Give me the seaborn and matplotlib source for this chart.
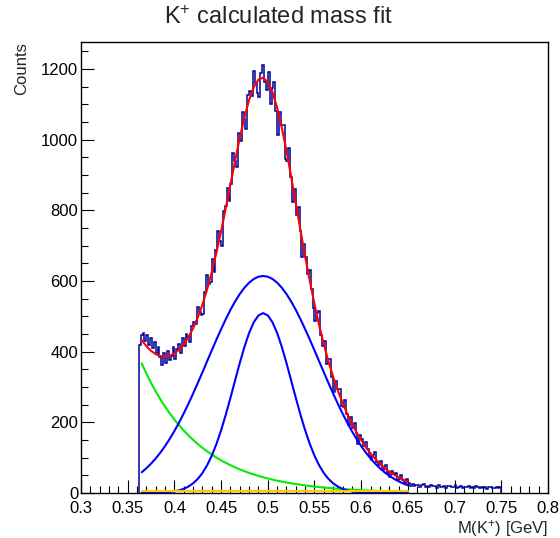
import numpy as np
import pandas as pd
import matplotlib
matplotlib.use("Agg")
import matplotlib.pyplot as plt
from matplotlib.ticker import MultipleLocator, FuncFormatter
import seaborn as sns

# histogram: 2 MeV bins starting at 0.362 GeV
bin_start = 0.362
bin_width = 0.002
counts = [
    # 0.362 - 0.420
    418, 447, 452, 431, 446, 419, 438, 409, 428, 396,
    412, 384, 361, 395, 368, 402, 376, 389, 414, 380,
    408, 421, 395, 438, 416, 449, 441, 427, 472,
    # 0.420 - 0.480
    484, 477, 525, 513, 503, 506, 569, 617, 590, 596,
    661, 625, 688, 742, 713, 699, 797, 811, 864, 827,
    873, 963, 940, 923, 1018, 995, 1078, 1059, 1030, 1126,
    # 0.480 - 0.540
    1137, 1123, 1193, 1161, 1132, 1119, 1187, 1212, 1162, 1139,
    1190, 1101, 1145, 1164, 1080, 1012, 1078, 1041, 1042, 946,
    939, 975, 895, 824, 860, 786, 808, 740, 669, 704,
    # 0.540 - 0.600
    669, 619, 632, 576, 524, 487, 508, 514, 448, 416,
    431, 365, 379, 380, 328, 285, 317, 294, 294, 245,
    242, 262, 224, 192, 215, 183, 198, 170, 140, 165,
    # 0.600 - 0.650
    152, 134, 145, 124, 104, 93, 108, 115, 89, 79,
    90, 64, 74, 80, 58, 44, 61, 54, 58, 38,
    40, 51, 38, 27, 39,
    # 0.650 - 0.750
    28, 21, 26, 19, 24, 23, 17, 22, 25, 18,
    21, 16, 23, 19, 20, 15, 22, 18, 17, 21,
    14, 19, 20, 16, 18, 22, 15, 17, 19, 14,
    18, 16, 20, 15, 17, 13, 19, 16, 15, 18,
    14, 17, 12, 16, 18, 14, 15, 17, 13, 16,
]

# fit curves
fit_x = [
    0.365, 0.370, 0.375, 0.380, 0.385, 0.390, 0.395, 0.400, 0.405, 0.410,
    0.415, 0.420, 0.425, 0.430, 0.435, 0.440, 0.445, 0.450, 0.455, 0.460,
    0.465, 0.470, 0.475, 0.480, 0.485, 0.490, 0.495, 0.500, 0.505, 0.510,
    0.515, 0.520, 0.525, 0.530, 0.535, 0.540, 0.545, 0.550, 0.555, 0.560,
    0.565, 0.570, 0.575, 0.580, 0.585, 0.590, 0.595, 0.600, 0.605, 0.610,
    0.615, 0.620, 0.625, 0.630, 0.635, 0.640, 0.645, 0.650,
]
fit_total = [
    432.5, 415.5, 402.3, 392.9, 387.4, 386.0, 388.5, 394.9, 405.7, 420.9,
    440.7, 465.9, 496.4, 533.0, 575.6, 624.7, 679.8, 740.4, 805.3, 872.8,
    940.1, 1004.6, 1062.9, 1111.8, 1148.2, 1169.7, 1174.6, 1162.5, 1133.7, 1089.9,
    1033.5, 967.5, 895.0, 819.4, 743.4, 669.4, 599.4, 534.2, 474.5, 420.6,
    372.1, 328.6, 289.8, 255.3, 224.3, 196.5, 171.7, 149.6, 129.7, 112.2,
    96.8, 83.2, 71.1, 60.9, 52.0, 44.4, 37.9, 32.4,
]
gaus_broad = [
    58.7, 70.1, 83.1, 97.8, 114.3, 132.8, 153.1, 175.3, 199.4, 225.1,
    252.4, 281.1, 310.9, 341.5, 372.4, 403.4, 433.9, 463.4, 491.6, 518.0,
    541.9, 563.0, 580.8, 595.1, 605.5, 611.9, 614.0, 611.9, 605.5, 595.1,
    580.8, 563.0, 541.9, 518.0, 491.6, 463.4, 433.9, 403.4, 372.4, 341.5,
    310.9, 281.1, 252.4, 225.1, 199.4, 175.3, 153.1, 132.8, 114.3, 97.8,
    83.1, 70.1, 58.7, 48.9, 40.4, 33.1, 27.0, 21.8,
]
gaus_narrow = [
    0.1, 0.2, 0.3, 0.5, 0.9, 1.6, 2.8, 4.6, 7.5, 11.9,
    18.2, 27.3, 39.8, 56.5, 78.2, 105.5, 138.6, 177.5, 221.4, 269.1,
    318.6, 367.7, 413.4, 452.8, 483.2, 502.4, 509.0, 502.4, 483.2, 452.8,
    413.4, 367.7, 318.6, 269.1, 221.4, 177.5, 138.6, 105.5, 78.2, 56.5,
    39.8, 27.3, 18.2, 11.9, 7.5, 4.6, 2.8, 1.6, 0.9, 0.5,
    0.3, 0.2, 0.1, 0.0, 0.0, 0.0, 0.0, 0.0,
]
bkg_expo = [
    366.7, 338.2, 311.9, 287.6, 265.2, 244.6, 225.6, 208.0, 191.8, 176.9,
    163.1, 150.5, 138.7, 128.0, 118.0, 108.8, 100.3, 92.5, 85.3, 78.7,
    72.6, 66.9, 61.7, 56.9, 52.5, 48.4, 44.6, 41.2, 38.0, 35.0,
    32.3, 29.8, 27.5, 25.3, 23.4, 21.5, 19.9, 18.3, 16.9, 15.6,
    14.4, 13.2, 12.2, 11.3, 10.4, 9.6, 8.8, 8.2, 7.5, 6.9,
    6.4, 5.9, 5.4, 5.0, 4.6, 4.3, 3.9, 3.6,
]
bkg_const = [7.0] * len(fit_x)

sns.set_theme(style="ticks")
plt.rcParams["font.family"] = ["Liberation Sans", "DejaVu Sans"]
plt.rcParams["mathtext.fontset"] = "custom"
plt.rcParams["mathtext.rm"] = "Liberation Sans"
plt.rcParams["mathtext.it"] = "Liberation Sans:italic"

fig = plt.figure(figsize=(5.6, 5.38), dpi=100)
ax = fig.add_axes([0.1446, 0.0836, 0.834, 0.8384])

edges = bin_start + bin_width * np.arange(len(counts) + 1)
ax.stairs(counts, edges, baseline=0, color="#000099", lw=1.1, zorder=2)

curves = pd.DataFrame({
    "x": fit_x,
    "total": fit_total,
    "broad": gaus_broad,
    "narrow": gaus_narrow,
    "expo": bkg_expo,
    "const": bkg_const,
})
styles = [("expo", "#00ee00"), ("broad", "#0000ff"), ("narrow", "#0000ff"),
          ("const", "#ffcc00"), ("total", "#ff0000")]
for col, c in styles:
    sns.lineplot(data=curves, x="x", y=col, color=c, lw=1.5, ax=ax,
                 estimator=None, sort=False, zorder=3)

ax.set_xlim(0.3, 0.8)
ax.set_ylim(0, 1276)
ax.xaxis.set_major_locator(MultipleLocator(0.05))
ax.xaxis.set_minor_locator(MultipleLocator(0.01))
ax.yaxis.set_major_locator(MultipleLocator(200))
ax.yaxis.set_minor_locator(MultipleLocator(50))
ax.xaxis.set_major_formatter(FuncFormatter(lambda v, p: f"{v:g}"))
ax.tick_params(which="both", direction="in", top=False, right=False,
               colors="black", labelsize=12)
ax.tick_params(which="major", length=9.4, width=0.8)
ax.tick_params(which="minor", length=5, width=0.8)
ax.tick_params(axis="x", pad=5.5)
ax.tick_params(axis="y", pad=2)
for s in ax.spines.values():
    s.set_color("black")
    s.set_linewidth(1.0)

ax.set_xlabel(r"M(K$^{+}$) [GeV]", fontsize=12, loc="right")
ax.xaxis.set_label_coords(1.0, -0.056)
ax.set_ylabel("Counts", fontsize=12, loc="top")
ax.yaxis.set_label_coords(-0.112, 1.0)

fig.text(0.497, 1 - 18 / 538, r"K$^{+}$ calculated mass fit", fontsize=17,
         ha="center", va="center")

fig.savefig("out.png", dpi=100)
